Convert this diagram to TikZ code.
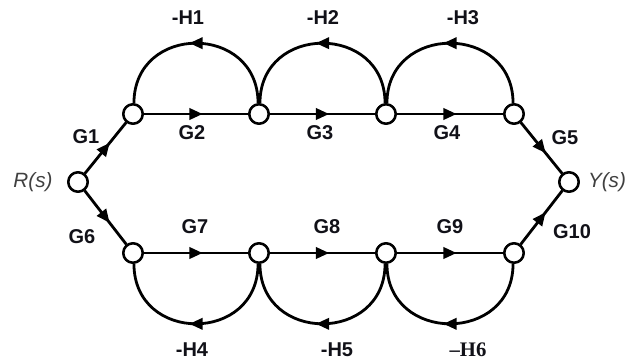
\documentclass[tikz,border=0pt]{standalone}
\usepackage{fontspec}
\setmainfont{Liberation Sans}
\newfontfamily\serfont{Liberation Serif}
\usetikzlibrary{arrows.meta,decorations.markings}
\definecolor{lbl}{HTML}{111118}
\definecolor{sig}{HTML}{404040}
\tikzset{
  sgnode/.style={circle,draw=black,fill=white,line width=1.8pt,minimum size=14.5pt,inner sep=0pt},
  branch/.style={draw=black,line width=2.1pt},
  midarr/.style={postaction={decorate},decoration={markings,
      mark=at position 0.5 with {\arrow[xshift=5pt]{Triangle[length=10pt,width=8.5pt]}}}},
  glabel/.style={text=lbl,font=\fontsize{15}{17}\selectfont\bfseries,inner sep=0pt},
  siglabel/.style={text=sig,font=\fontsize{15.5}{17}\selectfont\itshape,inner sep=0pt}
}
\begin{document}
\begin{tikzpicture}[x=0.75pt,y=-0.75pt]
\useasboundingbox (0,0) rectangle (628,360);
% nodes
\node[sgnode] (R) at (78,182) {};
\node[sgnode] (Y) at (569,182) {};
\node[sgnode] (t1) at (133,114) {};
\node[sgnode] (t2) at (259,114) {};
\node[sgnode] (t3) at (386,114) {};
\node[sgnode] (t4) at (514,114) {};
\node[sgnode] (b1) at (133,253) {};
\node[sgnode] (b2) at (259,253) {};
\node[sgnode] (b3) at (386,253) {};
\node[sgnode] (b4) at (514,253) {};
% forward branches
\draw[branch,midarr] (R) -- (t1);
\draw[branch,midarr] (t1) -- (t2);
\draw[branch,midarr] (t2) -- (t3);
\draw[branch,midarr] (t3) -- (t4);
\draw[branch,midarr] (t4) -- (Y);
\draw[branch,midarr] (R) -- (b1);
\draw[branch,midarr] (b1) -- (b2);
\draw[branch,midarr] (b2) -- (b3);
\draw[branch,midarr] (b3) -- (b4);
\draw[branch,midarr] (b4) -- (Y);
% feedback arcs
\draw[branch,midarr] (t2.95) .. controls +(0,-80) and +(0,-80) .. (t1.85);
\draw[branch,midarr] (t3.95) .. controls +(0,-80) and +(0,-80) .. (t2.85);
\draw[branch,midarr] (t4.95) .. controls +(0,-80) and +(0,-80) .. (t3.85);
\draw[branch,midarr] (b2.265) .. controls +(0,80) and +(0,80) .. (b1.275);
\draw[branch,midarr] (b3.265) .. controls +(0,80) and +(0,80) .. (b2.275);
\draw[branch,midarr] (b4.265) .. controls +(0,80) and +(0,80) .. (b3.275);
% redraw nodes on top
\foreach \n in {R,Y,t1,t2,t3,t4,b1,b2,b3,b4}{\node[sgnode] at (\n) {};}
% labels
\node[glabel] (lG1) at (86,137) {G1};
\node[glabel] (lG2) at (192,133) {G2};
\node[glabel] (lG3) at (320,133) {G3};
\node[glabel] (lG4) at (447,133) {G4};
\node[glabel] (lG5) at (565,138) {G5};
\node[glabel] (lG6) at (82,237) {G6};
\node[glabel] (lG7) at (195,227) {G7};
\node[glabel] (lG8) at (327,227) {G8};
\node[glabel] (lG9) at (450,227) {G9};
\node[glabel] (lG10) at (572,232) {G10};
\node[glabel] (lH1) at (188,18) {-H1};
\node[glabel] (lH2) at (323,18) {-H2};
\node[glabel] (lH3) at (463,18) {-H3};
\node[glabel] (lH4) at (192,350) {-H4};
\node[glabel] (lH5) at (337,350) {-H5};
\node[glabel,font=\fontsize{15.5}{17}\selectfont\serfont\bfseries] (lH6) at (468,350) {–H6};
\node[siglabel] (lR) at (33,182) {R(s)};
\node[siglabel] (lY) at (607,182) {Y(s)};
\end{tikzpicture}
\end{document}
